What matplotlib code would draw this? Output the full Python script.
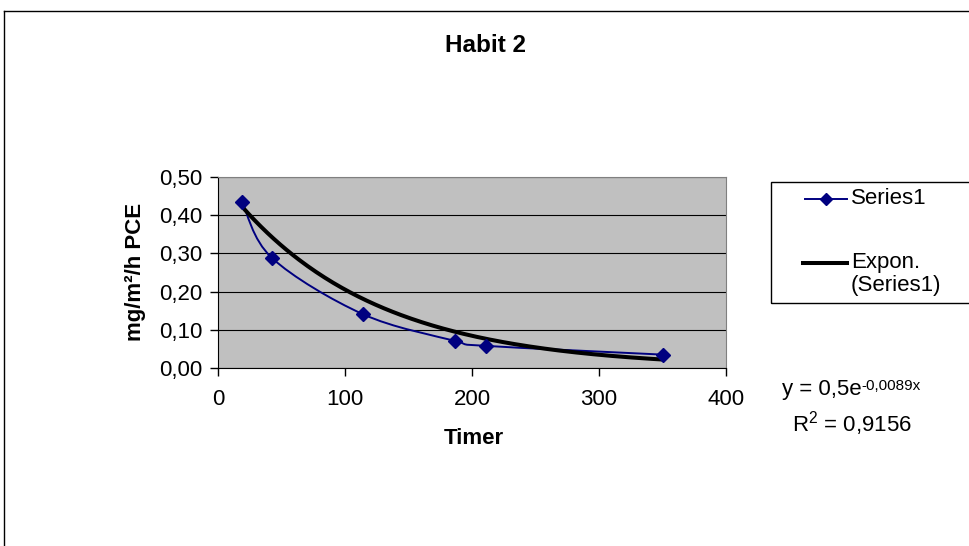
import matplotlib
matplotlib.use("Agg")
import matplotlib.pyplot as plt
import numpy as np
from matplotlib.path import Path
from matplotlib.patches import PathPatch, Rectangle
from matplotlib.lines import Line2D

plt.rcParams['font.family'] = ['Liberation Sans', 'DejaVu Sans']
plt.rcParams['mathtext.default'] = 'regular'

# measurements
timer = [19, 42.5, 114, 186.6, 210.8, 350.4]
pce = [0.435, 0.288, 0.141, 0.071, 0.058, 0.035]

# exponential trendline y = a * exp(b x)
trend_a = 0.5
trend_b = -0.0089
r2 = 0.9156

xticks = [0, 100, 200, 300, 400]
yticks = [0.0, 0.1, 0.2, 0.3, 0.4, 0.5]

W, H = 970, 546
fig = plt.figure(figsize=(W / 100, H / 100), dpi=100)


def fx(px):
    return px / W


def fy(py):
    return 1 - py / H


def comma(v):
    return str(v).replace('.', ',')


# chart frame (runs off the right and bottom edges)
fig.add_artist(Line2D([fx(4), fx(4)], [fy(11), fy(560)], color='black', lw=1))
fig.add_artist(Line2D([fx(4), fx(980)], [fy(11), fy(11)], color='black', lw=1))

ax = fig.add_axes([fx(218), fy(368), fx(726) - fx(218), fy(177) - fy(368)])
ax.set_facecolor('#c0c0c0')
ax.set_xlim(0, 400)
ax.set_ylim(0, 0.5)
ax.set_xticks(xticks)
ax.set_yticks(yticks)
ax.set_xticklabels([str(v) for v in xticks])
ax.set_yticklabels([f"{v:.2f}".replace('.', ',') for v in yticks])
ax.tick_params(direction='out', length=6, width=1, labelsize=16, color='black')
ax.tick_params(axis='x', pad=9)
ax.tick_params(axis='y', pad=5)
for s in ['top', 'right']:
    ax.spines[s].set_color('#808080')
for s in ['left', 'bottom']:
    ax.spines[s].set_color('black')
ax.yaxis.grid(True, color='black', lw=0.8)
ax.set_axisbelow(True)

# smoothed series line (Catmull-Rom segments as cubic Beziers)
pts = np.column_stack([timer, pce])
verts = [pts[0]]
codes = [Path.MOVETO]
n = len(pts)
for i in range(n - 1):
    p0 = pts[max(i - 1, 0)]
    p1 = pts[i]
    p2 = pts[i + 1]
    p3 = pts[min(i + 2, n - 1)]
    c1 = p1 + (p2 - p0) / 6
    c2 = p2 - (p3 - p1) / 6
    verts += [c1, c2, p2]
    codes += [Path.CURVE4] * 3
ax.add_patch(PathPatch(Path(verts, codes), fill=False, edgecolor='#000080', lw=1.4, zorder=3))

# trendline
tx = np.linspace(min(timer), max(timer), 200)
ax.plot(tx, trend_a * np.exp(trend_b * tx), color='black', lw=2.9, zorder=4)

ax.plot(timer, pce, linestyle='none', marker='D', ms=7.5, color='#000080', zorder=5)

fig.text(fx(474), fy(438), 'Timer', fontsize=16, fontweight='bold', ha='center', va='center')
fig.text(fx(135), fy(272), 'mg/m²/h PCE', fontsize=16, fontweight='bold', ha='center',
         va='center', rotation=90)

fig.text(fx(486), fy(45), 'Habit 2', fontsize=17.5, fontweight='bold', ha='center', va='center')

# legend box
fig.add_artist(Rectangle((fx(771), fy(303)), fx(990) - fx(771), fy(182) - fy(303),
                         transform=fig.transFigure, fill=False, edgecolor='black', lw=1))
fig.add_artist(Line2D([fx(805), fx(847)], [fy(199), fy(199)], color='#000080', lw=1.4))
fig.add_artist(Line2D([fx(826)], [fy(199)], marker='D', ms=6.5, color='#000080'))
fig.text(fx(851), fy(199), 'Series1', fontsize=16, va='center')
fig.add_artist(Line2D([fx(803), fx(847)], [fy(263), fy(263)], color='black', lw=2.9))
fig.text(fx(851), fy(262), 'Expon.', fontsize=16, va='center')
fig.text(fx(851), fy(286), '(Series1)', fontsize=16, va='center')

# trendline equation with superscript exponent
t_main = fig.text(fx(782), fy(395), f"y = {comma(trend_a)}e", fontsize=16, va='baseline')
fig.canvas.draw()
bb = t_main.get_window_extent()
fig.text(bb.x1 / W, fy(390), f"{comma(trend_b)}x", fontsize=11, va='baseline')
fig.text(fx(852), fy(432), f"R$^2$ = {comma(r2)}", fontsize=16, va='baseline', ha='center')

fig.savefig('out.png', dpi=100)
